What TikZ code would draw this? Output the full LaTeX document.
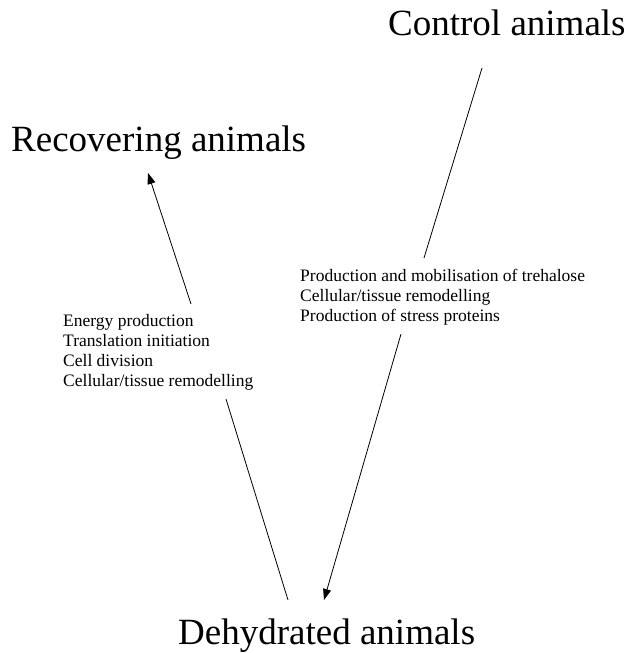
\documentclass[tikz,border=0pt]{standalone}
\usepackage{fontspec}
\setmainfont{Liberation Serif}
\usetikzlibrary{arrows.meta}

\tikzset{
  group/.style={anchor=base west, inner sep=0pt, font=\fontsize{37}{40}\selectfont},
  changes/.style={anchor=north west, inner sep=0pt, align=left, font=\fontsize{17.5}{20}\selectfont},
  trend/.style={line width=0.8pt},
  tip/.style={-{Triangle[length=11pt,width=8pt]}}
}

\begin{document}
\begin{tikzpicture}[x=1pt,y=-1pt]
  \useasboundingbox (0,0) rectangle (629,653);

  \node[group] (control) at (388,35) {Control animals};
  \node[group] (recovering) at (11,151) {Recovering animals};
  \node[group] (dehydrated) at (178,644.5) {Dehydrated animals};

  \node[changes] (dehydration) at (300,268.5) {Production and mobilisation of trehalose\\
    Cellular/tissue remodelling\\ Production of stress proteins};
  \node[changes] (recovery) at (63,314.5) {Energy production\\ Translation initiation\\
    Cell division\\ Cellular/tissue remodelling};

  \coordinate (C1) at (482,68);  \coordinate (C2) at (424,258);
  \coordinate (C3) at (401,334); \coordinate (D1) at (324,600);
  \draw[trend] (C1) -- (C2);
  \draw[trend,tip] (C3) -- (D1);

  \coordinate (D2) at (288,600); \coordinate (R1) at (226,399);
  \coordinate (R2) at (191,304); \coordinate (R3) at (148,173);
  \draw[trend] (D2) -- (R1);
  \draw[trend,tip] (R2) -- (R3);

\end{tikzpicture}
\end{document}
